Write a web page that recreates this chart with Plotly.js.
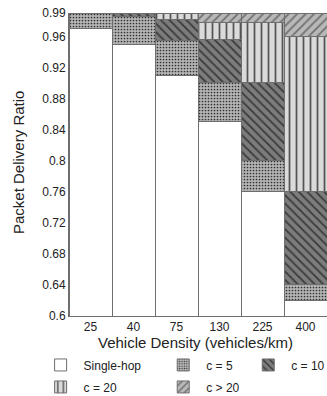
<!DOCTYPE html>
<html><head><meta charset="utf-8">
<script src="https://cdn.plot.ly/plotly-3.0.1.min.js"></script>
<style>html,body{margin:0;padding:0;background:#fff}#c{width:327px;height:396px}</style>
</head><body><div id="c"></div>
<script>
const densities = ['25', '40', '75', '130', '225', '400'];
const singleHop = [0.97, 0.95, 0.91, 0.85, 0.76, 0.62];
const c5 = [0.02, 0.035, 0.045, 0.05, 0.04, 0.02];
const c10 = [0, 0.005, 0.026, 0.056, 0.10, 0.12];
const c20 = [0, 0, 0.009, 0.022, 0.078, 0.20];
const cOver20 = [0, 0, 0, 0.012, 0.012, 0.03];
const yTicks = [0.6, 0.64, 0.68, 0.72, 0.76, 0.8, 0.84, 0.88, 0.92, 0.96, 0.99];
const yTickText = ['0.6', '0.64', '0.68', '0.72', '0.76', '0.8', '0.84', '0.88', '0.92', '0.96', '0.99'];
const xTitle = 'Vehicle Density (vehicles/km)';
const yTitle = 'Packet Delivery Ratio';

const line = {color: '#6e6e6e', width: 1};
function tr(name, y, bg, fg, shape, size, sol, leg, grp) {
  const m = {color: bg, line: line};
  if (shape) m.pattern = {shape: shape, bgcolor: bg, fgcolor: fg, size: size, solidity: sol, fillmode: 'replace'};
  return {type: 'bar', name: name, x: densities, y: y, marker: m, hoverinfo: 'skip', legend: leg, legendgroup: grp};
}
const data = [
  tr('Single-hop', singleHop, '#ffffff', null, null, 0, 0, 'legend', 'a'),
  tr('c = 5', c5, '#b4b4b4', '#303030', '.', 3, 0.25, 'legend2', 'b'),
  tr('c = 10', c10, '#7c7c7c', '#3a3a3a', '\\', 6, 0.3, 'legend3', 'c'),
  tr('c = 20', c20, '#dadada', '#555555', '|', 7, 0.25, 'legend', 'd'),
  tr('c > 20', cOver20, '#b8b8b8', '#707070', '/', 6, 0.3, 'legend2', 'e')
];
const font = {family: 'Liberation Sans, Arial, sans-serif', color: '#222', size: 12};
function leg(x) {
  return {
    orientation: 'v', xref: 'container', yref: 'container', x: x, xanchor: 'left',
    y: 0.115, yanchor: 'top', traceorder: 'grouped', tracegroupgap: 3,
    itemwidth: 36, font: {size: 12}, bgcolor: 'rgba(0,0,0,0)', itemclick: false
  };
}
const layout = {
  width: 327, height: 396,
  margin: {l: 69, r: 0, t: 13, b: 80, autoexpand: false},
  barmode: 'stack', bargap: 0,
  paper_bgcolor: '#fff', plot_bgcolor: '#fff',
  font: font,
  showlegend: true,
  xaxis: {
    type: 'category', range: [-0.5, 5.5], showgrid: false, zeroline: false, automargin: false,
    showline: true, linecolor: '#6e6e6e', linewidth: 1, ticks: '', tickfont: {size: 12}
  },
  yaxis: {
    range: [0.6, 0.99], showgrid: false, zeroline: false, automargin: false,
    showline: true, linecolor: '#6e6e6e', linewidth: 1, ticks: '',
    tickvals: yTicks, ticktext: yTickText, tickfont: {size: 12}
  },
  annotations: [
    {text: xTitle, xref: 'paper', yref: 'paper', x: 0.49, y: -0.086, xanchor: 'center', yanchor: 'middle',
     showarrow: false, font: {size: 15}},
    {text: yTitle, xref: 'paper', yref: 'paper', x: -0.198, y: 0.508, xanchor: 'center', yanchor: 'middle',
     textangle: -90, showarrow: false, font: {size: 15}}
  ],
  legend: leg(0.115),
  legend2: leg(0.49),
  legend3: leg(0.75)
};
Plotly.newPlot('c', data, layout, {displayModeBar: false, staticPlot: true});
</script></body></html>
